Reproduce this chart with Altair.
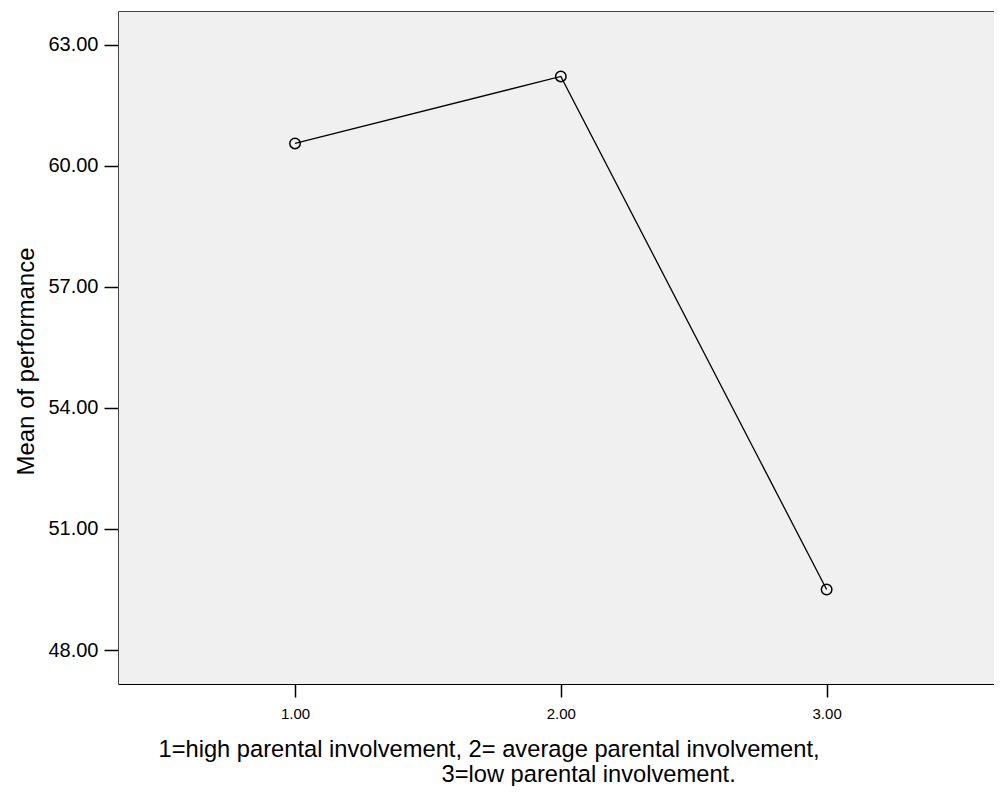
import altair as alt
import pandas as pd

groups = [1.0, 2.0, 3.0]
means = [60.55, 62.21, 49.50]
y_ticks = [48.0, 51.0, 54.0, 57.0, 60.0, 63.0]
x_ticks = [1.0, 2.0, 3.0]

df = pd.DataFrame({"group": groups, "mean": means})

FONT = "Liberation Sans"
NB = "\u00a0"
x_title = [
    "1=high parental involvement, 2= average parental involvement,",
    "\u200b" + NB * 43 + "3=low parental involvement.",
]

x_scale = alt.Scale(domain=[0.334, 3.6297], nice=False, zero=False)
y_scale = alt.Scale(domain=[47.16, 63.83], nice=False, zero=False)

x_axis = alt.Axis(
    values=x_ticks, format=".2f", grid=False,
    labelFont=FONT, labelFontSize=15, labelColor="#000",
    tickSize=13, tickColor="#000", tickWidth=1.5, labelPadding=9,
    domainColor="#000", domainWidth=1,
    title=x_title, titleFont=FONT, titleFontSize=23.7, titleFontWeight="normal",
    titleColor="#000", titleAlign="left", titleX=40, titleY=72,
    titleBaseline="alphabetic", titleLineHeight=25,
)
y_axis = alt.Axis(
    values=y_ticks, format=".2f", grid=False,
    labelFont=FONT, labelFontSize=20, labelColor="#000",
    tickSize=14, tickColor="#000", tickWidth=1.5, labelPadding=6,
    domainColor="#444", domainWidth=1,
    title="Mean of performance", titleFont=FONT, titleFontSize=24,
    titleFontWeight="normal", titleColor="#000", titleAngle=270,
    titleX=-85, titleY=350, titleAlign="center", titleBaseline="alphabetic",
)

base = alt.Chart(df)
Y = alt.Y("mean:Q", scale=y_scale, axis=y_axis)

line = base.mark_line(color="black", strokeWidth=1.3).encode(
    x=alt.X("group:Q", scale=x_scale, axis=x_axis), y=Y
)
points = base.mark_point(
    shape="circle", filled=False, color="black", size=110, strokeWidth=1.5, opacity=1
).encode(x=alt.X("group:Q", scale=x_scale, axis=None), y=Y)
top_frame = base.mark_point(opacity=0).encode(
    x=alt.X("group:Q", scale=x_scale,
            axis=alt.Axis(orient="top", labels=False, ticks=False, title=None,
                          grid=False, domainColor="#444", domainWidth=1)),
    y=Y,
)

chart = (
    alt.layer(line, points, top_frame)
    .resolve_axis(x="independent")
    .properties(
        width=876, height=673,
        autosize=alt.AutoSizeParams(type="none"),
        padding={"left": 110, "top": 3, "right": 0, "bottom": 102},
        background="white",
    )
    .configure_view(fill="#f0f0f0", stroke=None)
)

chart.save("out.html", embed_options={"renderer": "svg", "actions": False})
